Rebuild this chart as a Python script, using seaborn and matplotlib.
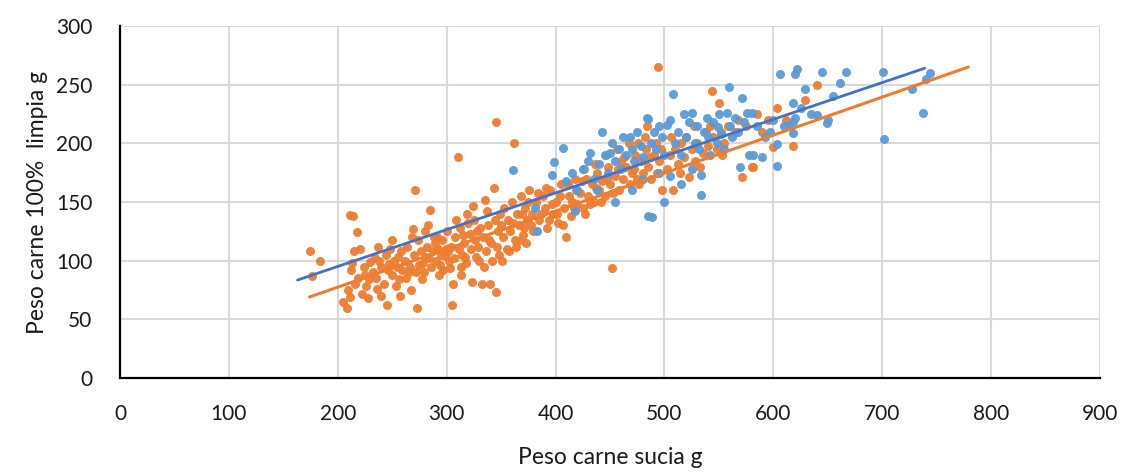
import matplotlib
matplotlib.use("Agg")
import matplotlib.pyplot as plt
import seaborn as sns
import pandas as pd
import numpy as np

# ---------------- data ----------------
orange_x = [174, 176, 184,
            208, 209, 211, 211, 214, 218, 215, 219, 212, 216, 222, 225, 228, 230, 205, 213, 220, 226, 224, 229,
            237, 245, 232, 235, 238, 240, 242, 244, 246, 248, 250, 252, 254, 256, 258, 240, 236, 250, 253, 257, 234, 247, 255, 259,
            262, 264, 266, 268, 270, 271, 272, 274, 276, 278, 280, 282, 284, 285, 286, 288, 263, 267, 273, 279, 283, 287, 269, 275, 281, 289, 265, 277,
            290, 292, 294, 296, 298, 300, 302, 304, 306, 308, 310, 305, 312, 314, 316, 318, 320, 293, 297, 301, 303, 307, 309, 311, 313, 315, 317, 319, 291, 299, 295, 313,
            322, 323, 324, 326, 328, 330, 332, 333, 335, 336, 338, 340, 341, 343, 345, 345, 347, 348, 349, 325, 327, 329, 331, 334, 337, 339, 342, 344, 346, 350, 321,
            352, 353, 355, 356, 358, 360, 362, 363, 365, 366, 368, 370, 372, 374, 376, 378, 351, 357, 361, 364, 367, 369, 371, 373, 375, 377, 379,
            382, 385, 388, 390, 392, 395, 398, 400, 402, 405, 408, 410, 412, 415, 418, 420, 384, 387, 391, 394, 397, 401, 404, 407, 411, 414, 417, 419,
            422, 425, 428, 430, 433, 435, 438, 440, 443, 445, 448, 450, 452, 455, 458, 460, 424, 427, 432, 437, 442, 447, 453, 457, 426, 436, 446, 456,
            462, 465, 468, 470, 473, 475, 478, 480, 483, 485, 488, 490, 492, 494, 495, 498, 463, 467, 472, 477, 482, 487, 493, 497, 484, 476,
            502, 505, 508, 510, 512, 515, 518, 520, 523, 525, 528, 530, 535, 538, 540, 544, 545, 548, 550, 552, 555, 558, 506, 514, 527, 533, 542, 553,
            565, 568, 571, 575, 580, 581, 585, 590, 600, 603, 618, 629, 640, 612, 595]
orange_y = [108, 87, 100,
            60, 75, 69, 139, 138, 124, 108, 85, 92, 80, 72, 88, 68, 99, 65, 98, 110, 78, 95, 84,
            112, 62, 90, 85, 100, 95, 80, 105, 92, 110, 88, 100, 95, 84, 108, 70, 76, 118, 78, 70, 102, 97, 103, 92,
            100, 112, 95, 120, 105, 160, 90, 118, 108, 98, 125, 112, 102, 143, 95, 120, 85, 75, 60, 90, 130, 108, 127, 96, 103, 115, 90, 84,
            100, 110, 96, 118, 104, 125, 100, 112, 80, 120, 188, 62, 128, 105, 115, 98, 132, 88, 92, 108, 94, 102, 135, 110, 95, 122, 103, 140, 120, 110, 105, 88,
            110, 82, 147, 118, 125, 100, 80, 120, 152, 108, 130, 80, 115, 162, 73, 218, 125, 105, 140, 135, 103, 112, 128, 95, 142, 118, 100, 135, 112, 130, 123,
            120, 145, 110, 135, 125, 150, 200, 118, 140, 130, 155, 122, 145, 135, 160, 140, 100, 108, 132, 112, 118, 140, 128, 115, 150, 130, 125,
            150, 135, 155, 145, 128, 160, 140, 150, 132, 165, 145, 120, 155, 150, 170, 148, 158, 140, 162, 135, 148, 140, 155, 130, 165, 138, 145, 160,
            158, 145, 170, 155, 165, 150, 175, 160, 168, 155, 180, 165, 94, 172, 160, 185, 168, 140, 148, 162, 150, 170, 158, 178, 178, 182, 190, 195,
            170, 180, 165, 175, 190, 170, 185, 175, 195, 180, 170, 190, 200, 265, 185, 160, 188, 200, 178, 165, 205, 188, 175, 195, 215, 200,
            178, 190, 160, 195, 182, 200, 188, 205, 171, 195, 185, 200, 192, 210, 198, 245, 205, 195, 234, 210, 200, 215, 205, 175, 215, 180, 215, 190,
            210, 220, 171, 215, 180, 180, 225, 210, 197, 230, 198, 237, 250, 220, 220]

blue_x = [361, 381, 383, 397, 399, 407, 410, 415, 420, 425, 430, 432, 435, 440, 443, 445, 448, 450, 452, 455, 458, 460,
          462, 465, 468, 470, 472, 475, 478, 480, 484, 485, 485, 488, 489, 490, 492, 495, 498, 500, 502, 505, 508, 510,
          512, 515, 518, 520, 523, 525, 528, 530, 532, 534, 534, 536, 539, 540, 542, 545, 548, 549, 550, 552, 555, 557,
          559, 560, 562, 565, 568, 569, 571, 573, 576, 578, 580, 581, 585, 590, 592, 597, 600, 603, 603, 606, 610, 615,
          618, 618, 618, 620, 620, 622, 625, 629, 635, 640, 645, 649, 650, 655, 661, 667, 701, 702, 727, 737, 744, 740,
          418, 438, 455, 470, 480, 495, 505, 515, 525, 500]
blue_y = [177, 145, 125, 173, 184, 196, 168, 175, 160, 178, 185, 192, 170, 182, 210, 190, 175, 192, 200, 185, 195, 178,
          205, 190, 205, 195, 185, 210, 198, 188, 222, 138, 221, 200, 137, 210, 195, 215, 205, 190, 216, 220, 242, 200,
          210, 190, 225, 205, 218, 226, 200, 215, 195, 173, 156, 210, 222, 205, 190, 218, 200, 214, 225, 208, 195, 226,
          248, 215, 205, 222, 210, 180, 239, 218, 226, 190, 226, 190, 215, 188, 205, 210, 220, 199, 181, 259, 215, 216,
          218, 234, 209, 222, 259, 263, 230, 246, 225, 224, 261, 217, 220, 240, 251, 261, 261, 204, 246, 226, 260, 255,
          142, 160, 150, 160, 170, 175, 172, 165, 178, 150]

# trend lines (end points)
blue_line_x = [163, 739]
blue_line_y = [83.5, 264]
orange_line_x = [174, 779]
orange_line_y = [69, 265]

x_ticks = [0, 100, 200, 300, 400, 500, 600, 700, 800, 900]
y_ticks = [0, 50, 100, 150, 200, 250, 300]
x_label = "Peso carne sucia g"
y_label = "Peso carne 100%  limpia g"

BLUE = "#5B9BD5"
ORANGE = "#ED7D31"
BLUE_LINE = "#4472C4"

# ---------------- plot ----------------
sns.set_theme(style="white")
plt.rcParams['font.family'] = ['Lato', 'DejaVu Sans']

fig = plt.figure(figsize=(11.23, 4.76), dpi=100)
ax = fig.add_axes([0.1069, 0.2059, 0.9795 - 0.1069, 0.9454 - 0.2059])

df_o = pd.DataFrame({"x": orange_x, "y": orange_y})
df_b = pd.DataFrame({"x": blue_x, "y": blue_y})

sns.scatterplot(data=df_o, x="x", y="y", ax=ax, color=ORANGE, s=42, linewidth=0, alpha=0.95, zorder=3)
sns.scatterplot(data=df_b, x="x", y="y", ax=ax, color=BLUE, s=42, linewidth=0, alpha=0.95, zorder=4)

sns.lineplot(x=blue_line_x, y=blue_line_y, ax=ax, color=BLUE_LINE, linewidth=2, zorder=5)
sns.lineplot(x=orange_line_x, y=orange_line_y, ax=ax, color=ORANGE, linewidth=2.2, zorder=5)

ax.set_xlim(0, 900)
ax.set_ylim(0, 300)
ax.set_xticks(x_ticks)
ax.set_yticks(y_ticks)
ax.set_xticklabels([str(t) for t in x_ticks], fontsize=15)
ax.set_yticklabels([str(t) for t in y_ticks], fontsize=15)
ax.tick_params(axis='x', length=0, pad=19, colors="#1a1a1a")
ax.tick_params(axis='y', length=0, pad=20, colors="#1a1a1a")
ax.set_xlabel(x_label, fontsize=16.5, labelpad=16, color="#1a1a1a")
ax.set_ylabel(y_label, fontsize=16.5, labelpad=6, color="#1a1a1a")

ax.grid(True, color="#D9D9D9", linewidth=1.5, zorder=0)
ax.set_axisbelow(True)
for s in ["top", "right"]:
    ax.spines[s].set_visible(False)
for s in ["left", "bottom"]:
    ax.spines[s].set_color("black")
    ax.spines[s].set_linewidth(1.6)

fig.savefig("out.png", dpi=100)
